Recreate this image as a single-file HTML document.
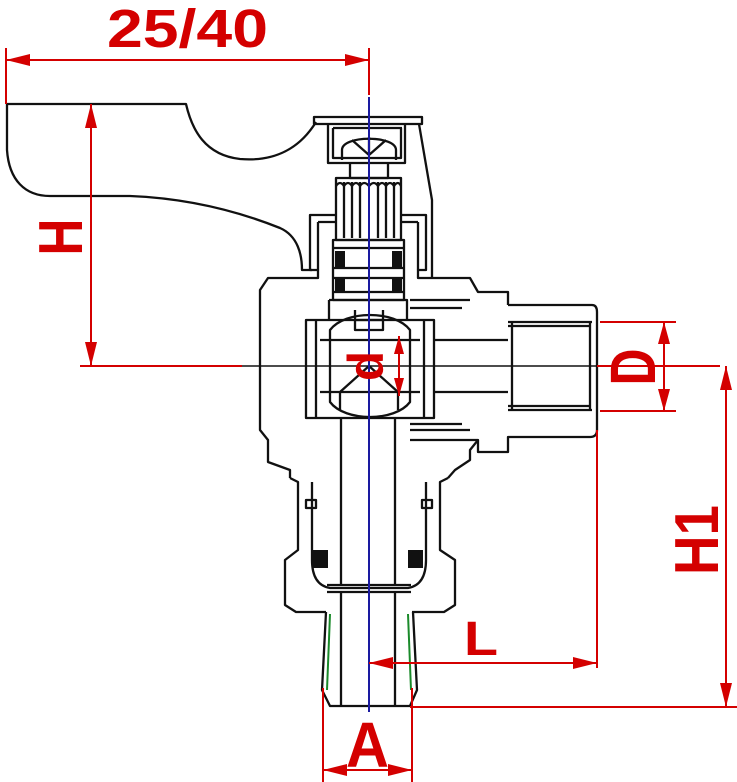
<!DOCTYPE html>
<html><head><meta charset="utf-8"><style>
html,body{margin:0;padding:0;background:#fff;}
svg{display:block;}
text{font-family:"Liberation Sans",sans-serif;fill:#d40000;font-weight:bold;}
</style></head><body>
<svg width="737" height="782" viewBox="0 0 737 782" xmlns="http://www.w3.org/2000/svg">
<g fill="none" stroke="#111" stroke-width="2.3" stroke-linejoin="round">
<!-- handle -->
<path d="M7,104 H186 C192,130 205,155 240,159 C275,162 300,148 316,122"/>
<path d="M7,104 V150 C9,180 25,196 50,196 H130 C180,198 230,208 280,228 C298,236 302,255 302,270 H312"/>
<path d="M419,124 L432,200 V278"/>
<!-- top cap -->
<path d="M314,117 H422 V124 H314 Z"/>
<path d="M328,124 V163 H405 V124 M333,128 H402 M333,128 V158 H401 V128"/>
<path d="M342,160 V150 C342,135 396,135 396,150 V160"/>
<path d="M352,140 L369,155 L386,140 M369,137 V155"/>
<!-- knurled stem -->
<path d="M350,163 V178 H388 V163"/>
<path d="M336,178 H401 V240 H336 Z"/>
<path d="M344,182 V238 M352,182 V238 M360,182 V238 M378,182 V238 M386,182 V238 M394,182 V238"/>
<path d="M336,186 Q340,180 344,186 Q348,180 352,186 Q356,180 360,186 Q364,180 369,186 Q374,180 378,186 Q382,180 386,186 Q390,180 394,186 Q398,180 401,186"/>
<!-- bonnet -->
<path d="M336,215 H310 V270 H318 V278 H268 L260,290 V430 L268,440 V462 L290,470 V478"/>
<path d="M401,215 H426 V270 H418 V278 H470 L478,292 H508 V305"/>
<path d="M318,222 H336 M401,222 H418 M318,222 V270 M418,222 V270"/>
<!-- packing -->
<path d="M333,240 H404 V300 H333 Z"/>
<path d="M333,248 H404 M333,268 H404 M333,278 H404 M333,292 H404"/>
<g fill="#111" stroke="none">
<rect x="335" y="251" width="10" height="16"/><rect x="392" y="251" width="10" height="16"/>
<rect x="335" y="279" width="10" height="12"/><rect x="392" y="279" width="10" height="12"/>
</g>
<!-- ball housing -->
<path d="M329,300 H407 V320 M329,300 V320"/>
<path d="M306,320 H434 V418 H306 Z"/>
<path d="M316,320 V418 M424,320 V418"/>
<path d="M330,330 C345,310 395,310 410,330 V402 C395,422 345,422 330,402 Z"/>
<path d="M355,310 V330 H383 V310 M355,320 H383"/>
<path d="M320,340 H420 M320,392 H420 M340,392 L369,366 L398,392 M340,392 V410 M398,392 V410"/>
<!-- right flange / port -->
<path d="M410,300 H470 M410,308 H462 M410,430 H470 M410,424 H462"/>
<path d="M434,340 H508 M434,392 H508"/>
<path d="M508,305 H592 Q597,305 597,312 V430 Q597,437 590,437 H508 V452 H478 V440 H410"/>
<path d="M508,322 H592 M508,410 H592 M512,322 V410 M590,322 V410 M508,326 H590 M508,406 H590"/>
<path d="M478,440 L470,450 V460 L455,470 L448,478"/>
<!-- lower body -->
<path d="M341,418 V585 M395,418 V585"/>
<path d="M290,478 L298,482 V550 L285,560 V605 L296,612 H326"/>
<path d="M448,478 L440,482 V550 L455,560 V605 L444,612 H412"/>
<path d="M306,500 H316 V508 H306 Z M422,500 H432 V508 H422 Z"/>
<path d="M312,482 V560 Q312,585 330,588 H408 Q426,585 426,560 V482"/>
<path d="M327,585 H411 M327,592 H411"/>
<g fill="#111" stroke="none">
<rect x="313" y="550" width="15" height="18"/><rect x="408" y="550" width="15" height="18"/>
</g>
<!-- nipple -->
<path d="M326,612 L322,690 L330,706 H410 L417,690 L413,612"/>
<path d="M341,592 V706 M395,592 V706"/>
</g>
<path d="M330,614 L327,690 M408,614 L411,690" stroke="#1a8a2a" stroke-width="2" fill="none"/>
<!-- center lines -->
<line x1="242" y1="366" x2="597" y2="366" stroke="#111" stroke-width="1.5"/>
<line x1="369" y1="97" x2="369" y2="712" stroke="#1a1aa0" stroke-width="2"/>
<!-- red dims -->
<g stroke="#d40000" stroke-width="2" fill="none">
<path d="M6,48 V104 M369,48 V95 M6,60 H369"/>
<path d="M91,104 V366 M80,366 H242"/>
<path d="M399,336 V396"/>
<path d="M600,322 H676 M600,411 H676 M664,322 V411"/>
<path d="M597,366 H720 M726,366 V707 M410,707 H737"/>
<path d="M597,430 V668 M369,663 H597"/>
<path d="M323,688 V782 M412,688 V782 M323,770 H412"/>
</g>
<g fill="#d40000">
<path d="M6,60 L30,54 V66 Z"/><path d="M369,60 L345,54 V66 Z"/>
<path d="M91,104 L85,128 H97 Z"/><path d="M91,366 L85,342 H97 Z"/>
<path d="M399,336 L394,354 H404 Z"/><path d="M399,396 L394,378 H404 Z"/>
<path d="M664,322 L658,344 H670 Z"/><path d="M664,411 L658,389 H670 Z"/>
<path d="M726,366 L720,390 H732 Z"/><path d="M726,707 L720,683 H732 Z"/>
<path d="M369,663 L393,657 V669 Z"/><path d="M597,663 L573,657 V669 Z"/>
<path d="M323,770 L347,764 V776 Z"/><path d="M412,770 L388,764 V776 Z"/>
</g>
<text x="107" y="47" font-size="54" textLength="161" lengthAdjust="spacingAndGlyphs">25/40</text>
<text transform="translate(59,237) rotate(-90)" x="0" y="23" font-size="62" text-anchor="middle" textLength="37" lengthAdjust="spacingAndGlyphs">H</text>
<text transform="translate(357,366) rotate(-90)" x="0" y="26" font-size="50" text-anchor="middle" textLength="30" lengthAdjust="spacingAndGlyphs">d</text>
<text transform="translate(632,367) rotate(-90)" x="0" y="23" font-size="64" text-anchor="middle" textLength="37" lengthAdjust="spacingAndGlyphs">D</text>
<text transform="translate(695,540) rotate(-90)" x="0" y="23" font-size="62" text-anchor="middle" textLength="70" lengthAdjust="spacingAndGlyphs">H1</text>
<text x="464" y="655" font-size="48" textLength="34" lengthAdjust="spacingAndGlyphs">L</text>
<text x="346" y="767" font-size="64" textLength="43" lengthAdjust="spacingAndGlyphs">A</text>
</svg>
</body></html>
